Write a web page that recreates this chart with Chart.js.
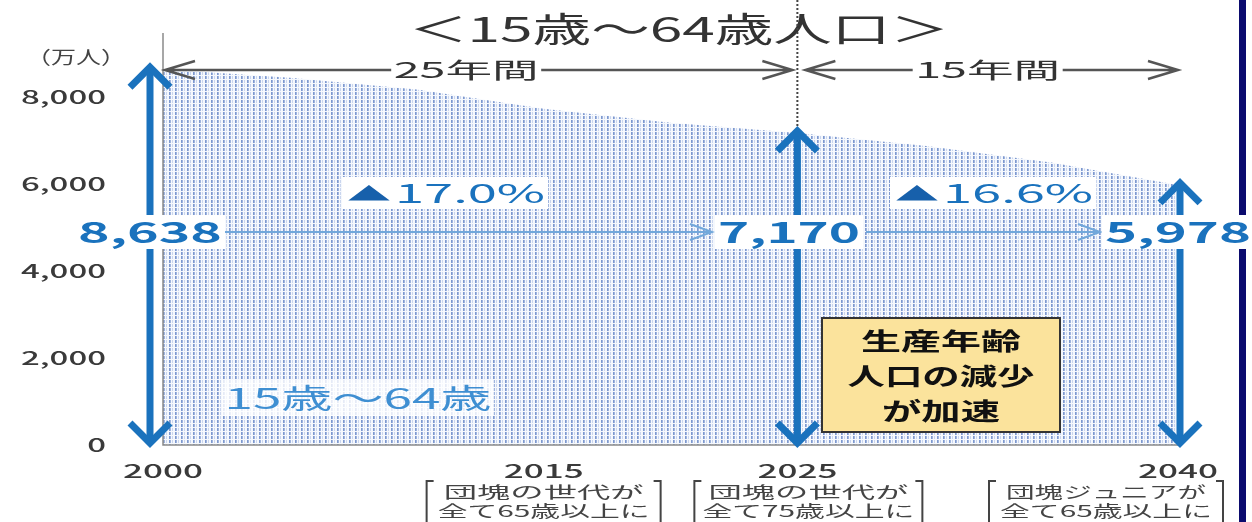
<!DOCTYPE html>
<html lang="ja">
<head>
<meta charset="utf-8">
<title>15歳～64歳人口</title>
<script src="https://cdn.jsdelivr.net/npm/chart.js@4/dist/chart.umd.min.js"></script>
<style>
  html, body { margin: 0; padding: 0; background: #ffffff; overflow: hidden; }
  #wrap { position: relative; width: 1252px; height: 522px; }
</style>
</head>
<body>
<div id="wrap"><canvas id="chart" width="1252" height="522"></canvas></div>
<script>
// 生産年齢人口（15歳～64歳）、単位：万人
const years = [2000, 2005, 2010, 2015, 2020, 2025, 2030, 2035, 2040];
const population = [8638, 8442, 8173, 7728, 7406, 7170, 6875, 6494, 5978];

// 軸の目盛り
const yTickValues = [0, 2000, 4000, 6000, 8000];
const xTickValues = [2000, 2015, 2025, 2040];

// 年次の下に添える注記
const xNoteYears = [2015, 2025, 2040];
const xNoteLines = [
  ['団塊の世代が', '全て65歳以上に'],
  ['団塊の世代が', '全て75歳以上に'],
  ['団塊ジュニアが', '全て65歳以上に']
];

// 比較する年
const markYears = [2000, 2025, 2040];

const titleText = '＜15歳～64歳人口＞';
const unitText = '（万人）';
const seriesLabel = '15歳～64歳';
const boxLines = ['生産年齢', '人口の減少', 'が加速'];

const JP = '"Noto Sans CJK JP", "Noto Sans", sans-serif';
const BLUE = '#1a72bd';
const DARKBLUE = '#1760ab';
const LIGHTBLUE = '#3f8fd2';

function valueAt(y) { return population[years.indexOf(y)]; }
function fmt(v) { return v.toLocaleString('en-US'); }

// 点線ドット柄の塗り
function makePattern() {
  const c = document.createElement('canvas');
  c.width = 6; c.height = 4;
  const g = c.getContext('2d');
  g.fillStyle = '#f5f8fd'; g.fillRect(0, 0, 6, 4);
  g.fillStyle = '#7d98cf'; g.fillRect(1, 0, 1, 3);
  g.fillStyle = '#9fb4de'; g.fillRect(2, 0, 1, 3);
  g.fillStyle = '#c9d5ee'; g.fillRect(4, 0, 1, 3);
  return document.getElementById('chart').getContext('2d').createPattern(c, 'repeat');
}

// 横に引き伸ばした文字
function text(ctx, s, x, y, font, color, width, align) {
  ctx.save();
  ctx.font = font;
  const w = ctx.measureText(s).width;
  const sx = width ? width / w : 1;
  ctx.translate(x, y);
  ctx.scale(sx, 1);
  ctx.textAlign = align || 'center';
  ctx.textBaseline = 'middle';
  ctx.fillStyle = color;
  ctx.fillText(s, 0, 0);
  ctx.restore();
}

function whiteBox(ctx, cx, cy, w, h, color) {
  ctx.save();
  ctx.fillStyle = color || '#ffffff';
  ctx.fillRect(cx - w / 2, cy - h / 2, w, h);
  ctx.restore();
}

function thickArrow(ctx, x, yTop, yBot) {
  ctx.save();
  ctx.strokeStyle = BLUE;
  ctx.lineWidth = 7;
  ctx.lineCap = 'butt';
  ctx.lineJoin = 'miter';
  ctx.beginPath();
  ctx.moveTo(x, yTop + 3); ctx.lineTo(x, yBot - 3);
  ctx.stroke();
  ctx.beginPath();
  ctx.moveTo(x - 20, yTop + 22); ctx.lineTo(x, yTop + 2); ctx.lineTo(x + 20, yTop + 22);
  ctx.stroke();
  ctx.beginPath();
  ctx.moveTo(x - 20, yBot - 22); ctx.lineTo(x, yBot - 2); ctx.lineTo(x + 20, yBot - 22);
  ctx.stroke();
  ctx.restore();
}

function thinArrow(ctx, x1, x2, y) {
  ctx.save();
  ctx.strokeStyle = '#72a8db';
  ctx.lineWidth = 2;
  ctx.beginPath();
  ctx.moveTo(x1, y); ctx.lineTo(x2, y);
  ctx.moveTo(x2 - 22, y - 8); ctx.lineTo(x2, y); ctx.lineTo(x2 - 22, y + 8);
  ctx.stroke();
  ctx.restore();
}

function spanArrow(ctx, x1, x2, y) {
  ctx.save();
  ctx.strokeStyle = '#555555';
  ctx.lineWidth = 2.5;
  ctx.beginPath();
  ctx.moveTo(x1, y); ctx.lineTo(x2, y);
  ctx.moveTo(x1 + 30, y - 9); ctx.lineTo(x1, y); ctx.lineTo(x1 + 30, y + 9);
  ctx.moveTo(x2 - 30, y - 9); ctx.lineTo(x2, y); ctx.lineTo(x2 - 30, y + 9);
  ctx.stroke();
  ctx.restore();
}

const decorations = {
  id: 'decorations',
  afterDatasetsDraw(chart) {
    const ctx = chart.ctx;
    const xs = chart.scales.x, ys = chart.scales.y;
    const area = chart.chartArea;
    const px = v => xs.getPixelForValue(v);
    const py = v => ys.getPixelForValue(v);
    const y0 = py(0);

    // 軸線
    ctx.save();
    ctx.strokeStyle = '#8a8a8a';
    ctx.lineWidth = 1.5;
    ctx.beginPath();
    ctx.moveTo(area.left, area.top - 3); ctx.lineTo(area.left, y0);
    ctx.lineTo(area.right, y0);
    ctx.stroke();
    ctx.restore();

    // 右端の枠線
    ctx.save();
    ctx.fillStyle = '#0b0b6e';
    ctx.fillRect(1239, 0, 7, 522);
    ctx.restore();

    // タイトルと単位
    text(ctx, titleText, 679, 29, '34px ' + JP, '#333333', 540);
    text(ctx, unitText, 76, 57, '18px ' + JP, '#444444', 100);

    // y軸目盛り
    ctx.save();
    ctx.font = '500 19px ' + JP;
    const ySx = 85 / ctx.measureText('8,000').width;
    ctx.restore();
    ys.ticks.forEach(t => {
      const s = fmt(t.value);
      ctx.save();
      ctx.font = '500 19px ' + JP;
      const w = ctx.measureText(s).width * ySx;
      ctx.restore();
      text(ctx, s, 106 - w / 2, py(t.value), '500 19px ' + JP, '#3a3a3a', w);
    });

    // x軸目盛りと注記
    xs.ticks.forEach(t => {
      const x = px(t.value);
      text(ctx, String(t.value), x, 471, '500 19px ' + JP, '#3a3a3a', 80);
    });
    const noteShift = [0, 11, -72];
    const bracketHalf = [117, 114, 117];
    xNoteYears.forEach((yr, i) => {
      const cx = px(yr) + noteShift[i];
      text(ctx, xNoteLines[i][0], cx, 492, '16px ' + JP, '#444444', 200);
      text(ctx, xNoteLines[i][1], cx, 511, '16px ' + JP, '#444444', 212);
      const bl = cx - bracketHalf[i], br = cx + bracketHalf[i];
      ctx.save();
      ctx.strokeStyle = '#444444';
      ctx.lineWidth = 2;
      ctx.beginPath();
      ctx.moveTo(bl + 7, 481); ctx.lineTo(bl, 481); ctx.lineTo(bl, 522);
      ctx.moveTo(br - 7, 481); ctx.lineTo(br, 481); ctx.lineTo(br, 522);
      ctx.stroke();
      ctx.restore();
    });

    // 2025年の区切り点線
    const xMid = px(markYears[1]);
    ctx.save();
    ctx.strokeStyle = '#444444';
    ctx.lineWidth = 2;
    ctx.setLineDash([2, 2]);
    ctx.beginPath();
    ctx.moveTo(xMid, 0); ctx.lineTo(xMid, py(valueAt(markYears[1])));
    ctx.stroke();
    ctx.restore();

    // 期間の矢印
    const x0 = px(markYears[0]), x2 = px(markYears[2]);
    spanArrow(ctx, x0 + 2, xMid - 5, 70);
    spanArrow(ctx, xMid + 8, x2, 70);
    const span1 = (markYears[1] - markYears[0]) + '年間';
    const span2 = (markYears[2] - markYears[1]) + '年間';
    whiteBox(ctx, (x0 + xMid) / 2 - 14, 70, 150, 26);
    text(ctx, span1, (x0 + xMid) / 2 - 14, 70, '22px ' + JP, '#333333', 145);
    whiteBox(ctx, (xMid + x2) / 2, 70, 150, 26);
    text(ctx, span2, (xMid + x2) / 2, 70, '22px ' + JP, '#333333', 145);

    // 太い青矢印（値の高さから0まで）
    const arrowX = [x0 - 13, xMid, x2 + 2];
    markYears.forEach((yr, i) => {
      thickArrow(ctx, arrowX[i], py(valueAt(yr)) - 4, y0);
    });

    // 数値ラベルと横矢印
    const labelY = 232;
    thinArrow(ctx, 225, 712, labelY);
    thinArrow(ctx, 866, 1100, labelY);
    const labelX = [150, 789, 1178];
    const labelW = [144, 142, 146];
    markYears.forEach((yr, i) => {
      whiteBox(ctx, labelX[i], labelY, labelW[i] + 6, 34);
      text(ctx, fmt(valueAt(yr)), labelX[i], labelY, 'bold 28px ' + JP, BLUE, labelW[i]);
    });

    // 減少率
    const v0 = valueAt(markYears[0]), v1 = valueAt(markYears[1]), v2 = valueAt(markYears[2]);
    const r1 = ((v0 - v1) / v0 * 100).toFixed(1);
    const r2 = ((v1 - v2) / v1 * 100).toFixed(1);
    [[r1, 445], [r2, 993]].forEach(([r, cx]) => {
      whiteBox(ctx, cx, 193, 206, 32);
      text(ctx, '▲', cx - 76, 194, '19px ' + JP, DARKBLUE, 44);
      text(ctx, r + '%', cx + 25, 193, '26px ' + JP, BLUE, 150);
    });

    // 系列名
    whiteBox(ctx, 358, 398, 272, 36, 'rgba(255,255,255,0.8)');
    text(ctx, seriesLabel, 358, 398, '28px ' + JP, LIGHTBLUE, 267);

    // 注目ボックス
    ctx.save();
    ctx.fillStyle = '#fbe39c';
    ctx.fillRect(822, 318, 238, 114);
    ctx.strokeStyle = '#333333';
    ctx.lineWidth = 2;
    ctx.strokeRect(822, 318, 238, 114);
    ctx.restore();
    const boxW = [160, 187, 118];
    boxLines.forEach((s, i) => {
      text(ctx, s, 941, 341 + i * 35, 'bold 24px ' + JP, '#111111', boxW[i]);
    });
  }
};

const ctx = document.getElementById('chart').getContext('2d');
new Chart(ctx, {
  type: 'line',
  data: {
    datasets: [{
      label: seriesLabel,
      data: years.map((y, i) => ({ x: y, y: population[i] })),
      fill: 'origin',
      backgroundColor: makePattern(),
      borderWidth: 0,
      borderColor: 'rgba(0,0,0,0)',
      pointRadius: 0,
      tension: 0
    }]
  },
  options: {
    responsive: false,
    devicePixelRatio: 1,
    animation: false,
    events: [],
    layout: { padding: { left: 163, right: 74, top: 36, bottom: 77 } },
    plugins: { legend: { display: false }, tooltip: { enabled: false }, title: { display: false } },
    scales: {
      x: {
        type: 'linear', min: 2000, max: 2040,
        afterBuildTicks: s => { s.ticks = xTickValues.map(v => ({ value: v })); },
        ticks: { display: false },
        grid: { display: false, drawTicks: false },
        border: { display: false }
      },
      y: {
        type: 'linear', min: 0, max: 9400,
        afterBuildTicks: s => { s.ticks = yTickValues.map(v => ({ value: v })); },
        ticks: { display: false },
        grid: { display: false, drawTicks: false },
        border: { display: false }
      }
    }
  },
  plugins: [decorations]
});
</script>
</body>
</html>
